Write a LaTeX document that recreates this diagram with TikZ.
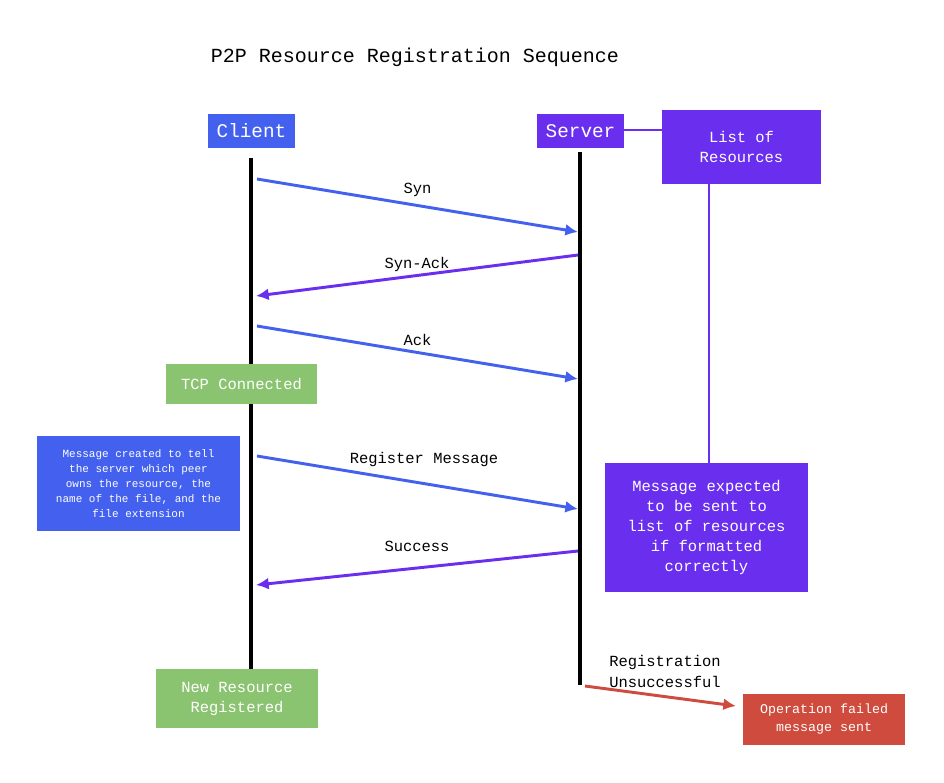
\documentclass[tikz,border=0pt]{standalone}
\usepackage{fontspec}
\setmainfont{Liberation Mono}
\usetikzlibrary{shapes,arrows,arrows.meta}
\definecolor{clientblue}{RGB}{67,97,238}
\definecolor{serverpurple}{RGB}{106,46,238}
\definecolor{okgreen}{RGB}{138,196,112}
\definecolor{failred}{RGB}{206,75,62}
\tikzstyle{actor} = [rectangle, text=white, inner sep=0pt, minimum width=65.25pt, minimum height=25.5pt, font=\fontsize{14.5}{16}\selectfont]
\tikzstyle{box} = [rectangle, text=white, inner sep=0pt, align=center, font=\fontsize{11.6}{15}\selectfont]
\tikzstyle{state} = [box, fill=okgreen]
\tikzstyle{msglabel} = [inner sep=0pt, font=\fontsize{11.6}{15}\selectfont]
\tikzstyle{lifeline} = [draw, black, line width=2.6pt]
\tikzstyle{sendline} = [draw, -{Latex[length=9.5pt,width=9pt]}, clientblue, line width=2.2pt]
\tikzstyle{replyline} = [draw, -{Latex[length=9.5pt,width=9pt]}, serverpurple, line width=2.2pt]
\pgfdeclarelayer{background}
\pgfsetlayers{background,main}

\begin{document}
\begin{tikzpicture}[x=0.75pt, y=-0.75pt]
    \useasboundingbox (0,0) rectangle (944,782);

    % Title
    \node [msglabel, font=\fontsize{15}{18}\selectfont] (title) at (415,57) {P2P Resource Registration Sequence};

    % Place nodes
    \node [actor, fill=clientblue] (client) at (251.5,131) {Client};
    \node [actor, fill=serverpurple] (server) at (580.5,131) {Server};
    \node [box, fill=serverpurple, minimum width=119.25pt, minimum height=55.5pt] (resources) at (741.5,147) {List of\\Resources};
    \node [box, fill=serverpurple, minimum width=152.25pt, minimum height=96.75pt] (expected) at (706.5,527.5) {Message expected\\to be sent to\\list of resources\\if formatted\\correctly};
    \node [state, minimum width=113.25pt, minimum height=30pt] (tcp) at (241.5,384) {TCP Connected};
    \node [box, fill=clientblue, minimum width=152.25pt, minimum height=71.25pt, font=\fontsize{8.25}{11.25}\selectfont] (note) at (138.5,483.5) {Message created to tell\\the server which peer\\owns the resource, the\\name of the file, and the\\file extension};
    \node [state, minimum width=121.5pt, minimum height=44.25pt] (registered) at (237,698.5) {New Resource\\Registered};
    \node [box, fill=failred, minimum width=121.5pt, minimum height=38.25pt, font=\fontsize{10}{13.5}\selectfont] (failed) at (824,719.5) {Operation failed\\message sent};
    \node [msglabel, anchor=west, align=left, font=\fontsize{11.6}{15.75}\selectfont] (unsuccessful) at (609,671.5) {Registration\\Unsuccessful};

    % Helper coordinates on the lifelines
    \coordinate (client-top) at (251,158);
    \coordinate (server-top) at (580,152);
    \coordinate (server-end) at (580,685);
    \coordinate (res-x) at (709,0);
    \coordinate (c-syn) at (257,179);
    \coordinate (s-syn) at (578,232);
    \coordinate (s-synack) at (578,255);
    \coordinate (c-synack) at (256,296);
    \coordinate (c-ack) at (257,326);
    \coordinate (s-ack) at (578,379);
    \coordinate (c-reg) at (257,456);
    \coordinate (s-reg) at (578,509);
    \coordinate (s-succ) at (578,551);
    \coordinate (c-succ) at (256,585);
    \coordinate (s-fail) at (585,686);
    \coordinate (fail-tip) at (736,706);

    % Draw edges
    \path [sendline] (c-syn) -- node [msglabel, text=black, yshift=12pt] {Syn} (s-syn);
    \path [replyline] (s-synack) -- node [msglabel, text=black, yshift=8.6pt] {Syn-Ack} (c-synack);
    \path [sendline] (c-ack) -- node [msglabel, text=black, yshift=9.4pt] {Ack} (s-ack);
    \path [sendline] (c-reg) -- node [msglabel, text=black, yshift=16.9pt, xshift=4.9pt] {Register Message} (s-reg);
    \path [replyline] (s-succ) -- node [msglabel, text=black, yshift=16.5pt] {Success} (c-succ);
    \path [draw, -{Latex[length=9.5pt,width=9pt]}, failred, line width=2.2pt] (s-fail) -- (fail-tip);

    % Lifelines go behind the boxes, on a white page
    \begin{pgfonlayer}{background}
      \fill [white] (0,0) rectangle (944,782);
      \path [lifeline] (client-top) -- (client-top |- registered.north);
      \path [lifeline] (server-top) -- (server-end);
      \path [draw, serverpurple, line width=2.2pt] (server.east |- 0,130) -- (resources.west |- 0,130);
      \path [draw, serverpurple, line width=2.2pt] (resources.south -| res-x) -- (expected.north -| res-x);
    \end{pgfonlayer}
\end{tikzpicture}
\end{document}
